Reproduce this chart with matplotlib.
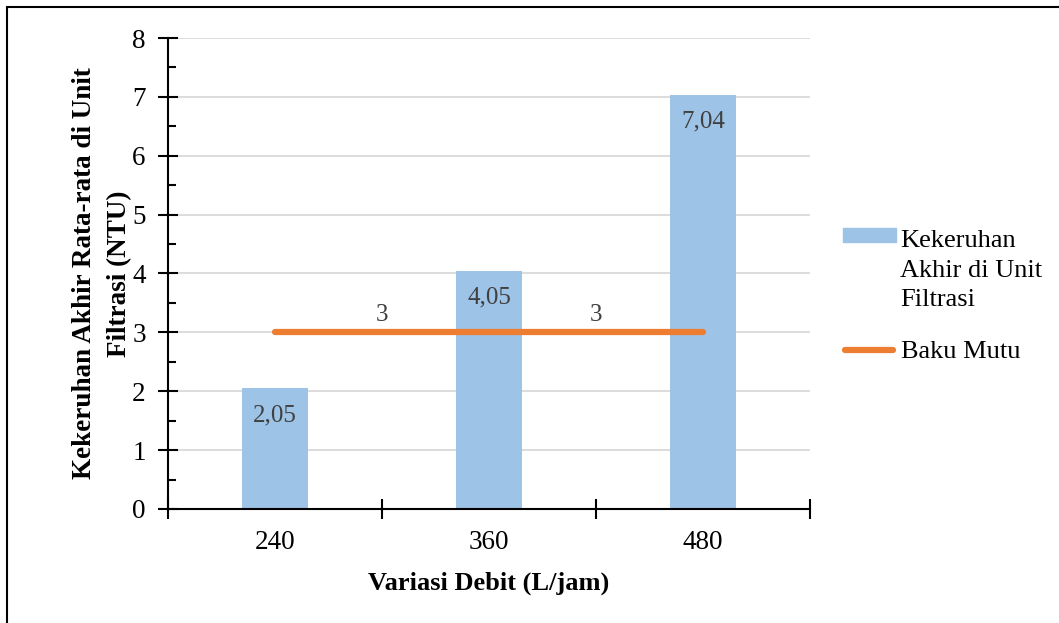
import numpy as np
import matplotlib.pyplot as plt
from matplotlib.patches import Rectangle
from matplotlib.lines import Line2D

# kekeruhan akhir rata-rata per variasi debit
debit = ['240', '360', '480']
kekeruhan = [2.05, 4.05, 7.04]
baku_mutu = [3, 3, 3]
kekeruhan_labels = ['2,05', '4,05', '7,04']

plt.rcParams['font.family'] = ['Liberation Serif', 'DejaVu Serif']

bar_color = '#9DC3E6'
line_color = '#ED7D31'

fig = plt.figure(figsize=(10.59, 6.23), dpi=100)
ax = fig.add_axes([0.1586, 0.183, 0.6063, 0.756])

x = np.arange(len(debit))
ax.bar(x, kekeruhan, width=0.31, color=bar_color, zorder=2)
ax.plot(x, baku_mutu, color=line_color, lw=4.5, solid_capstyle='round', zorder=3)

for xi, val, lab in zip(x, kekeruhan, kekeruhan_labels):
    ax.text(xi, val - 0.27, lab, ha='center', va='top', fontsize=18, color='#404040', zorder=4)
for xi in [0.5, 1.5]:
    ax.text(xi, baku_mutu[0] + 0.1, '3', ha='center', va='bottom', fontsize=18, color='#404040', zorder=4)

ax.set_xlim(-0.5, 2.5)
ax.set_ylim(0, 8)
ax.set_yticks(range(0, 9))
ax.set_yticks(np.arange(0.5, 8, 1), minor=True)
ax.set_xticks(x)
ax.set_xticklabels(debit)
ax.set_xticks([-0.5, 0.5, 1.5, 2.5], minor=True)
ax.tick_params(axis='x', which='major', length=0, labelsize=19.5, pad=15)
ax.tick_params(axis='x', which='minor', direction='inout', length=14, width=1.5)
ax.tick_params(axis='y', which='major', direction='inout', length=14, width=1.5, labelsize=19.5, pad=9)
ax.tick_params(axis='y', which='minor', direction='in', length=6, width=1.5)
ax.grid(axis='y', color='#D9D9D9', lw=1.3, zorder=0)
ax.set_axisbelow(True)

for s in ['top', 'right']:
    ax.spines[s].set_visible(False)
for s in ['left', 'bottom']:
    ax.spines[s].set_linewidth(1.5)

ax.set_xlabel('Variasi Debit (L/jam)', fontsize=19, fontweight='bold', labelpad=12)
ax.set_ylabel('Kekeruhan Akhir Rata-rata di Unit\nFiltrasi (NTU)', fontsize=19.5,
              fontweight='bold', labelpad=0, linespacing=1.55)

# legenda manual
fig.add_artist(Rectangle((843 / 1059, 1 - 242 / 623), 53 / 1059, 14 / 623,
                         transform=fig.transFigure, color=bar_color))
fig.text(900 / 1059, 1 - 230 / 623, 'Kekeruhan\nAkhir di Unit\nFiltrasi', fontsize=19,
         va='top', ha='left', linespacing=1.45)
fig.add_artist(Line2D([845 / 1059, 893 / 1059], [1 - 350 / 623, 1 - 350 / 623],
                      transform=fig.transFigure, color=line_color, lw=4.5,
                      solid_capstyle='round'))
fig.text(901 / 1059, 1 - 352 / 623, 'Baku Mutu', fontsize=19, va='center', ha='left')

# bingkai grafik
fig.add_artist(Rectangle((7 / 1059, -0.01), 1.1, 1 - 7 / 623 + 0.01,
                         transform=fig.transFigure, fill=False, ec='black', lw=1.5))

fig.savefig('out.png', dpi=100)
